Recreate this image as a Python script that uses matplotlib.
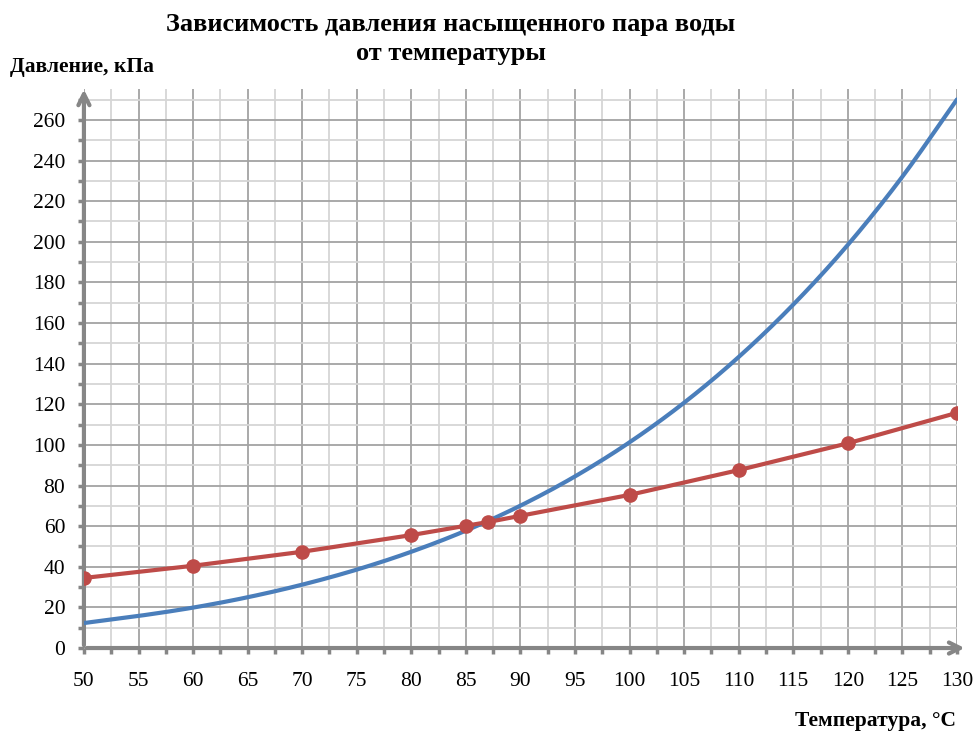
import numpy as np
import matplotlib
matplotlib.use('Agg')
import matplotlib.pyplot as plt
from matplotlib.ticker import MultipleLocator

# saturated water vapour pressure (blue curve)
temp_sat = [50, 55, 60, 65, 70, 75, 80, 85, 90, 95, 100, 105, 110, 115, 120, 125, 130]
press_sat = [12.3, 15.8, 19.9, 25.0, 31.2, 38.6, 47.4, 57.8, 70.1, 84.5, 101.3,
             120.8, 143.3, 169.1, 198.5, 232.1, 270.1]

# second series with markers (red)
temp_red = [50, 60, 70, 80, 85, 87, 90, 100, 110, 120, 130]
press_red = [34.5, 40.5, 47.4, 55.6, 60.2, 62.0, 65.1, 75.4, 87.6, 100.8, 115.8]

x_ticks = list(range(50, 131, 5))
y_ticks = list(range(0, 261, 20))

BLUE = '#4A7EBB'
RED = '#BE4B48'
AXIS = '#868686'


def smooth(xs, ys, n=20):
    # Catmull-Rom drawing path, like a "smoothed line" in a spreadsheet
    p = np.column_stack([xs, ys]).astype(float)
    p = np.vstack([2 * p[0] - p[1], p, 2 * p[-1] - p[-2]])
    out = []
    t = np.linspace(0, 1, n, endpoint=False)[:, None]
    for i in range(1, len(p) - 2):
        p0, p1, p2, p3 = p[i - 1], p[i], p[i + 1], p[i + 2]
        seg = 0.5 * ((2 * p1) + (-p0 + p2) * t + (2 * p0 - 5 * p1 + 4 * p2 - p3) * t ** 2
                     + (-p0 + 3 * p1 - 3 * p2 + p3) * t ** 3)
        out.append(seg)
    out.append(p[-2][None, :])
    out = np.vstack(out)
    return out[:, 0], out[:, 1]


plt.rcParams['font.family'] = ['Liberation Serif', 'DejaVu Serif']

fig = plt.figure(figsize=(9.76, 7.31), dpi=100)
ax = fig.add_axes([0.086, 0.1135, 0.8945, 0.7641])

ax.set_xlim(50, 130)
ax.set_ylim(0, 275)

# grid
ax.xaxis.set_major_locator(MultipleLocator(5))
ax.xaxis.set_minor_locator(MultipleLocator(2.5))
ax.yaxis.set_major_locator(MultipleLocator(20))
ax.yaxis.set_minor_locator(MultipleLocator(10))
ax.grid(which='major', color='#a3a3a3', linewidth=1.3)
ax.grid(which='minor', color='#d6d6d6', linewidth=1.3)
ax.set_axisbelow(True)

for s in ax.spines.values():
    s.set_visible(False)

ax.set_xticks(x_ticks)
ax.set_yticks(y_ticks)
ax.tick_params(which='both', axis='x', direction='out', length=4.5, width=2.5,
               color=AXIS, pad=13, labelsize=15.5)
ax.tick_params(which='both', axis='y', direction='out', length=4.5, width=2.5,
               color=AXIS, pad=9, labelsize=15.5)

# axes with arrows
ax.annotate('', xy=(1.012, 0), xytext=(0, 0), xycoords='axes fraction',
            arrowprops=dict(arrowstyle='->,head_length=0.8,head_width=0.4',
                            color=AXIS, lw=3), annotation_clip=False)
ax.annotate('', xy=(0, 1.005), xytext=(0, 0), xycoords='axes fraction',
            arrowprops=dict(arrowstyle='->,head_length=0.8,head_width=0.4',
                            color=AXIS, lw=3), annotation_clip=False)

sx, sy = smooth(temp_sat, press_sat)
ax.plot(sx, sy, color=BLUE, lw=3, solid_capstyle='round', zorder=3)
ax.plot(temp_red, press_red, color=RED, lw=3, marker='o', markersize=9.5, zorder=4)

fig.text(0.462, 0.982, 'Зависимость давления насыщенного пара воды\nот температуры',
         ha='center', va='top', fontsize=19, fontweight='bold', linespacing=1.33)
fig.text(0.01, 0.908, 'Давление, кПа', ha='left', va='center',
         fontsize=15.5, fontweight='bold')
fig.text(0.979, 0.014, 'Температура, °C', ha='right', va='center',
         fontsize=15.5, fontweight='bold')

fig.savefig('out.png', dpi=100)
